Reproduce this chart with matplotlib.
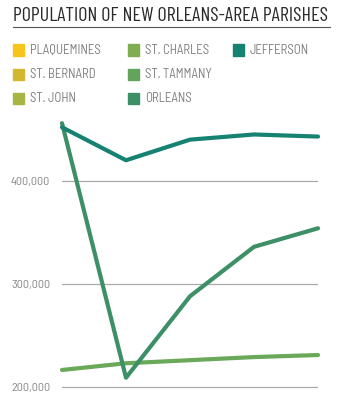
import matplotlib
matplotlib.use("Agg")
import matplotlib.pyplot as plt
from matplotlib.patches import Rectangle

years = [2000, 2006, 2007, 2008, 2009]
jefferson = [452000, 420000, 440000, 445000, 443000]
orleans = [456000, 209000, 288000, 336000, 354000]
st_tammany = [216500, 223000, 226000, 229000, 231000]

parishes = ["PLAQUEMINES", "ST. BERNARD", "ST. JOHN",
            "ST. CHARLES", "ST. TAMMANY", "ORLEANS", "JEFFERSON"]
parish_colors = ["#f6c51d", "#d2b730", "#a8b444",
                 "#7fad4f", "#63a35c", "#3d8f66", "#168272"]

yticks = [200000, 300000, 400000]
ytick_labels = ["200,000", "300,000", "400,000"]

semi = ["Barlow Semi Condensed", "Barlow Condensed", "DejaVu Sans"]
cond = ["Barlow Condensed", "DejaVu Sans"]

fig = plt.figure(figsize=(3.45, 4.16), dpi=100)
fig.patch.set_facecolor("white")

# title + rule
fig.text(13 / 345, 1 - 16 / 416, "POPULATION OF NEW ORLEANS-AREA PARISHES",
         fontsize=14.4, color="#2a2a2a", va="center", ha="left", family=cond)
fig.add_artist(plt.Line2D([13 / 345, 330 / 345], [1 - 27 / 416, 1 - 27 / 416],
                          color="#555555", lw=0.8, transform=fig.transFigure))

# legend
col_x = [13, 128, 233]
row_y = [50, 74, 98]
for i, (name, c) in enumerate(zip(parishes, parish_colors)):
    col, row = divmod(i, 3)
    x0 = col_x[col] / 345
    y0 = 1 - row_y[row] / 416
    fig.add_artist(Rectangle((x0, y0 - 5.5 / 416), 11 / 345, 11 / 416,
                             color=c, transform=fig.transFigure))
    fig.text(x0 + 17 / 345, y0, name, fontsize=9.2, color="#808080",
             va="center", ha="left", family=semi)

ax = fig.add_axes([62 / 345, 1 - 405 / 416, 256 / 345, 287 / 416])
ax.set_ylim(182500, 461000)
ax.set_xticks([])
ax.set_yticks(yticks)
ax.set_yticklabels(ytick_labels, fontsize=8.8, color="#888888", family=semi)
ax.tick_params(axis="y", length=0, pad=8.5)
for s in ax.spines.values():
    s.set_visible(False)
ax.grid(axis="y", color="#aaaaaa", lw=0.9)
ax.set_axisbelow(True)

xs = range(len(years))
ax.set_xlim(0, len(years) - 1)
ax.plot(xs, st_tammany, color="#6aa85a", lw=3, solid_capstyle="round", clip_on=False)
ax.plot(xs, orleans, color=parish_colors[5], lw=3, solid_capstyle="round", clip_on=False)
ax.plot(xs, jefferson, color=parish_colors[6], lw=3, solid_capstyle="round", clip_on=False)

fig.savefig("out.png", dpi=100)
